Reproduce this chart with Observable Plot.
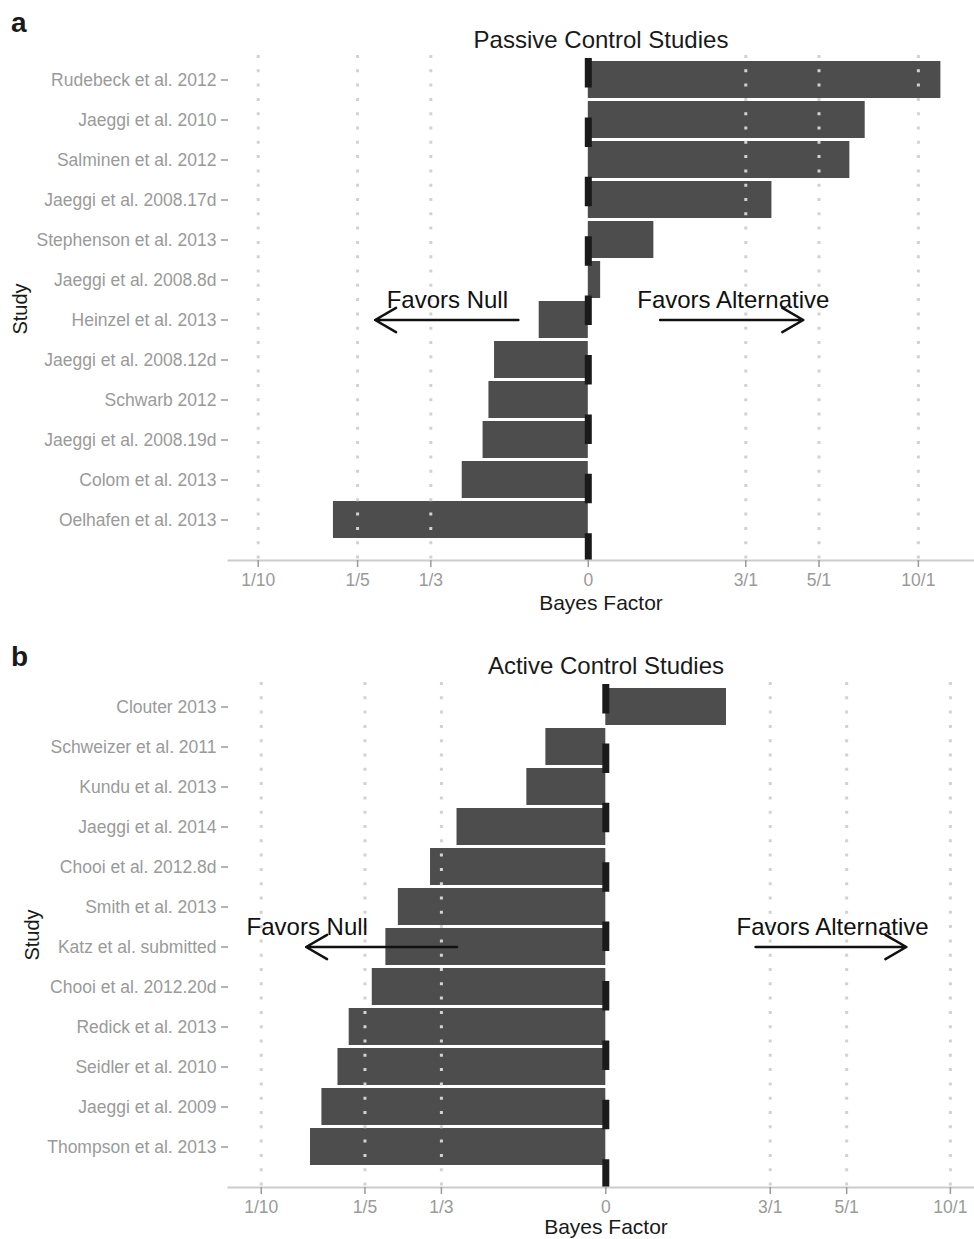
<!DOCTYPE html>
<html>
<head>
<meta charset="utf-8">
<script src="https://cdn.jsdelivr.net/npm/d3@7"></script>
<script src="https://cdn.jsdelivr.net/npm/@observablehq/plot@0.6"></script>
<style>
  html, body { margin: 0; padding: 0; background: #fff; overflow: hidden; }
  body { width: 974px; height: 1239px; position: relative; font-family: "Liberation Sans", Arial, sans-serif; }
  .abs { position: absolute; white-space: nowrap; line-height: 1; color: #1a1a1a; }
  .tag { font-weight: bold; font-size: 28px; left: 11px; }
  .title { font-size: 24px; text-align: center; width: 400px; }
  .xlab { font-size: 21px; text-align: center; width: 300px; }
  .ylab { font-size: 20px; transform: translate(-50%, -50%) rotate(-90deg); }
  .plotbox { position: absolute; left: 0; }
</style>
</head>
<body>
<div id="panelA" class="plotbox" style="top:0px"></div>
<div id="panelB" class="plotbox" style="top:627px"></div>

<div class="abs tag" style="top:9px">a</div>
<div class="abs title" style="left:401px; top:28px">Passive Control Studies</div>
<div class="abs xlab" style="left:451px; top:592px">Bayes Factor</div>
<div class="abs ylab" style="left:20px; top:309px">Study</div>

<div class="abs tag" style="top:643px">b</div>
<div class="abs title" style="left:406px; top:654px">Active Control Studies</div>
<div class="abs xlab" style="left:456px; top:1216px">Bayes Factor</div>
<div class="abs ylab" style="left:32px; top:935px">Study</div>

<script>
// ---- Data ----
const passiveStudies = [
  "Rudebeck et al. 2012", "Jaeggi et al. 2010", "Salminen et al. 2012",
  "Jaeggi et al. 2008.17d", "Stephenson et al. 2013", "Jaeggi et al. 2008.8d",
  "Heinzel et al. 2013", "Jaeggi et al. 2008.12d", "Schwarb 2012",
  "Jaeggi et al. 2008.19d", "Colom et al. 2013", "Oelhafen et al. 2013"
];
const passiveBF = [11.7, 6.9, 6.2, 3.6, 1.58, 1.09, 0.71, 0.52, 0.50, 0.48, 0.415, 0.169];

const activeStudies = [
  "Clouter 2013", "Schweizer et al. 2011", "Kundu et al. 2013",
  "Jaeggi et al. 2014", "Chooi et al. 2012.8d", "Smith et al. 2013",
  "Katz et al. submitted", "Chooi et al. 2012.20d", "Redick et al. 2013",
  "Seidler et al. 2010", "Jaeggi et al. 2009", "Thompson et al. 2013"
];
const activeBF = [2.24, 0.67, 0.59, 0.37, 0.31, 0.25, 0.23, 0.21, 0.18, 0.167, 0.15, 0.139];

const tickValues = [0.1, 0.2, 1/3, 1, 3, 5, 10];
const tickLabels = ["1/10", "1/5", "1/3", "0", "3/1", "5/1", "10/1"];

// annotation data (BF positions)
const passiveNotes = [{bf: 0.374, text: "Favors Null"}, {bf: 2.75, text: "Favors Alternative"}];
const passiveArrows = [{from: 0.614, to: 0.226}, {from: 1.65, to: 4.48}];
const activeNotes = [{bf: 0.136, text: "Favors Null"}, {bf: 4.55, text: "Favors Alternative"}];
const activeArrows = [{from: 0.37, to: 0.135}, {from: 2.72, to: 7.45}];

function panel({studies, bf, xdomain, height, marginBottom, insetBottom, dashOffset, notes, arrows, noteRow}) {
  const data = studies.map((s, i) => ({study: s, bf: bf[i]}));
  const grid = tickValues.filter(v => v !== 1);
  return Plot.plot({
    width: 974,
    height,
    marginLeft: 228,
    marginRight: 0,
    marginTop: 55,
    marginBottom,
    style: {fontFamily: "'Liberation Sans', Arial, sans-serif", background: "white", overflow: "visible"},
    x: {type: "log", domain: xdomain, label: null},
    y: {type: "band", domain: studies, paddingInner: 0.08, paddingOuter: 0.12, insetBottom, label: null},
    marks: [
      Plot.barX(data, {x1: 1, x2: "bf", y: "study", fill: "#4d4d4d"}),
      Plot.ruleX(grid, {stroke: "#d2d2d2", strokeWidth: 3, strokeDasharray: "3,11.3"}),
      Plot.ruleX([1], {stroke: "#1a1a1a", strokeWidth: 7, strokeDasharray: "29.5,29.9", strokeDashoffset: dashOffset}),
      Plot.frame({anchor: "bottom", stroke: "#cccccc", strokeWidth: 2}),
      Plot.axisX({
        ticks: tickValues,
        tickFormat: d => tickLabels[tickValues.indexOf(d)],
        tickSize: 7, tickPadding: 6, fontSize: 17.5,
        color: "#9a9a9a", strokeWidth: 1.5, label: null
      }),
      Plot.axisY({
        tickSize: 7, tickPadding: 5, fontSize: 17.5,
        color: "#9a9a9a", strokeWidth: 1.5, label: null
      }),
      Plot.text(notes, {x: "bf", y: () => noteRow, text: "text", dy: -20, fontSize: 24, fill: "#111"}),
      Plot.arrow(arrows, {
        x1: "from", x2: "to", y1: () => noteRow, y2: () => noteRow,
        stroke: "#111", strokeWidth: 2.5, headLength: 14.5, headAngle: 60
      })
    ]
  });
}

document.getElementById("panelA").append(panel({
  studies: passiveStudies, bf: passiveBF,
  xdomain: [Math.pow(10, -1.09), Math.pow(10, 1.17)],
  height: 610, marginBottom: 50, insetBottom: 15.6, dashOffset: -3,
  notes: passiveNotes, arrows: passiveArrows, noteRow: "Heinzel et al. 2013"
}));

document.getElementById("panelB").append(panel({
  studies: activeStudies, bf: activeBF,
  xdomain: [Math.pow(10, -1.095), Math.pow(10, 1.07)],
  height: 612, marginBottom: 52, insetBottom: 15.6, dashOffset: -2,
  notes: activeNotes, arrows: activeArrows, noteRow: "Katz et al. submitted"
}));
</script>
</body>
</html>
